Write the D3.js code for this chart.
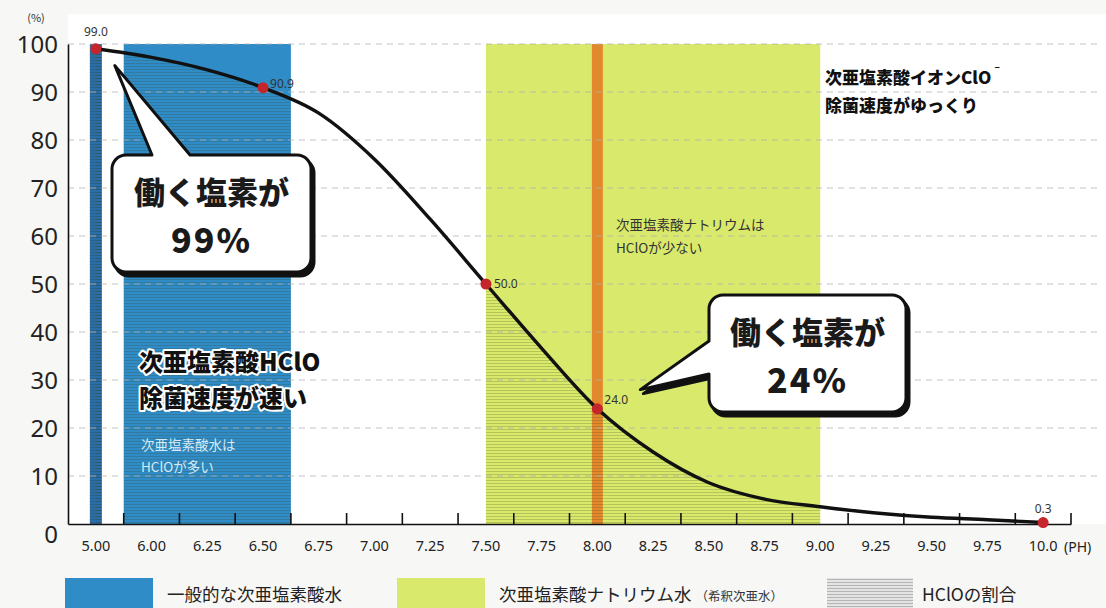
<!DOCTYPE html>
<html><head><meta charset="utf-8">
<script src="https://cdn.jsdelivr.net/npm/d3@7"></script>
<style>
html,body{margin:0;padding:0;background:#f7f7f5;}
svg{display:block;font-family:"Noto Sans CJK JP","Noto Sans",sans-serif;}
</style></head>
<body>
<svg id="c" width="1106" height="608"></svg>
<script>
// ---- data ----
const phLabels = ["5.00","6.00","6.25","6.50","6.75","7.00","7.25","7.50","7.75","8.00","8.25","8.50","8.75","9.00","9.25","9.50","9.75","10.0"];
const hcloPct  = [99.0, 97.2, 94.6, 90.9, 85.6, 76.0, 63.5, 50.0, 36.6, 24.0, 15.0, 8.6, 5.2, 3.6, 2.3, 1.4, 0.9, 0.3];
const labeledPH = ["5.00","6.50","7.50","8.00","10.0"];
const yTicks = [0,10,20,30,40,50,60,70,80,90,100];
const blueThin = ["5.00"];            // general hypochlorous acid water (narrow)
const blueWide = ["6.00","6.50"];     // general hypochlorous acid water (band range)
const yellowRange = ["7.50","9.00"];  // sodium hypochlorite water (centre to centre)
const orangePH = "8.00";
const legendItems = ["一般的な次亜塩素酸水","次亜塩素酸ナトリウム水","HClOの割合"];

const svg = d3.select("#c");
const W = 1106, H = 608;
const x = d3.scaleBand().domain(phLabels).range([68,1071]).padding(0);
const cx = d => x(d) + x.bandwidth()/2;
const y = d3.scaleLinear().domain([0,100]).range([524,44]);
const data = phLabels.map((p,i)=>({ph:p, v:hcloPct[i]}));

const BLUE = "#2f8cc6", BLUE_D = "#2a6ea8", YEL = "#d9e96c", ORG = "#e1892c", RED = "#c4262b";

// defs
const defs = svg.append("defs");
const pat = defs.append("pattern").attr("id","hatch").attr("patternUnits","userSpaceOnUse")
  .attr("width",6).attr("height",3);
pat.append("rect").attr("x",0).attr("y",0).attr("width",6).attr("height",1).attr("fill","rgba(60,60,20,0.22)");
const patL = defs.append("pattern").attr("id","hatchL").attr("patternUnits","userSpaceOnUse")
  .attr("width",6).attr("height",3);
patL.append("rect").attr("width",6).attr("height",3).attr("fill","#e4e4e4");
patL.append("rect").attr("width",6).attr("height",1).attr("fill","#b5b5b5");

// plot background
svg.append("rect").attr("x",68).attr("y",14).attr("width",W-68).attr("height",510).attr("fill","#fff");

// regions
const regions = svg.append("g");
regions.append("rect").attr("x",cx(blueThin[0])-6).attr("y",y(100)).attr("width",12).attr("height",y(0)-y(100)).attr("fill",BLUE_D);
regions.append("rect").attr("x",x(blueWide[0])).attr("y",y(100))
  .attr("width",x(blueWide[1])+x.bandwidth()-x(blueWide[0])).attr("height",y(0)-y(100)).attr("fill",BLUE);
regions.append("rect").attr("x",cx(yellowRange[0])).attr("y",y(100))
  .attr("width",cx(yellowRange[1])-cx(yellowRange[0])).attr("height",y(0)-y(100)).attr("fill",YEL);
regions.append("rect").attr("x",cx(orangePH)-5.5).attr("y",y(100)).attr("width",11).attr("height",y(0)-y(100)).attr("fill",ORG);

// clip for hatch
const clip = defs.append("clipPath").attr("id","regclip");
clip.append("rect").attr("x",cx(blueThin[0])-6).attr("y",0).attr("width",12).attr("height",H);
clip.append("rect").attr("x",x(blueWide[0])).attr("y",0).attr("width",x(blueWide[1])+x.bandwidth()-x(blueWide[0])).attr("height",H);
clip.append("rect").attr("x",cx(yellowRange[0])).attr("y",0).attr("width",cx(yellowRange[1])-cx(yellowRange[0])).attr("height",H);

const curve = d3.curveMonotoneX;
const area = d3.area().x(d=>cx(d.ph)).y0(y(0)).y1(d=>y(d.v)).curve(curve);
svg.append("path").datum(data).attr("d",area).attr("fill","url(#hatch)").attr("clip-path","url(#regclip)");
// thin bar full hatch
svg.append("rect").attr("x",cx(blueThin[0])-6).attr("y",y(100)).attr("width",12).attr("height",y(0)-y(100)).attr("fill","url(#hatch)");

// gridlines
svg.append("g").selectAll("line").data(yTicks.filter(t=>t>0)).join("line")
  .attr("x1",68).attr("x2",1100).attr("y1",d=>y(d)).attr("y2",d=>y(d))
  .attr("stroke","rgba(175,175,175,0.75)").attr("stroke-width",1).attr("stroke-dasharray","6,5");

// y axis
const ya = svg.append("g").attr("transform","translate(68,0)")
  .call(d3.axisLeft(y).tickValues(yTicks).tickSize(0).tickSizeOuter(0).tickPadding(10));
ya.select(".domain").attr("stroke","#111").attr("stroke-width",1.6);
ya.selectAll("text").attr("font-size",24).attr("fill","#222").attr("font-family","'Noto Sans',sans-serif")
  .attr("dy", d => d===0 ? "0.75em" : "0.35em");
svg.append("text").attr("x",36).attr("y",22).attr("text-anchor","middle").attr("font-size",11).attr("fill","#333").text("(%)");

// x axis
const xa = svg.append("g").attr("transform","translate(0,524)")
  .call(d3.axisBottom(x).tickSize(0).tickSizeOuter(0).tickPadding(17));
xa.select(".domain").attr("stroke","#111").attr("stroke-width",1.6);
xa.selectAll("text").attr("font-size",14.5).attr("fill","#222").attr("font-family","'Noto Sans',sans-serif");
svg.append("g").selectAll("line").data(phLabels).join("line")
  .attr("x1",d=>x(d)+x.bandwidth()).attr("x2",d=>x(d)+x.bandwidth())
  .attr("y1",524).attr("y2",513).attr("stroke","#111").attr("stroke-width",1.6);
svg.append("text").attr("x",1064).attr("y",552).attr("font-size",14).attr("fill","#222")
  .attr("font-family","'Noto Sans',sans-serif").text("(PH)");

// curve
const line = d3.line().x(d=>cx(d.ph)).y(d=>y(d.v)).curve(curve);
svg.append("path").datum(data).attr("d",line).attr("fill","none").attr("stroke","#111").attr("stroke-width",3.4);

// points & labels
const pts = data.filter(d=>labeledPH.includes(d.ph));
svg.append("g").selectAll("circle").data(pts).join("circle")
  .attr("cx",d=>cx(d.ph)).attr("cy",d=>y(d.v)).attr("r",5.5).attr("fill",RED);
const lblPos = {"5.00":[0,-17,"middle"],"6.50":[7,-4,"start"],"7.50":[8,0,"start"],"8.00":[7,-9,"start"],"10.0":[0,-14,"middle"]};
svg.append("g").selectAll("text").data(pts).join("text")
  .attr("x",d=>cx(d.ph)+lblPos[d.ph][0]).attr("y",d=>y(d.v)+lblPos[d.ph][1])
  .attr("dy","0.35em").attr("text-anchor",d=>lblPos[d.ph][2])
  .attr("font-size",12).attr("fill","#333").attr("font-family","'Noto Sans',sans-serif")
  .text(d=>d.v.toFixed(1));

// annotation texts
function outlined(lines, x0, y0, lh, size){
  const t = svg.append("text").attr("font-size",size).attr("font-weight",900)
    .attr("fill","#111").attr("stroke","#fff").attr("stroke-width",4).attr("paint-order","stroke")
    .attr("stroke-linejoin","round");
  lines.forEach((s,i)=>t.append("tspan").attr("x",x0).attr("y",y0+i*lh).text(s));
  return t;
}
outlined(["次亜塩素酸HClO","除菌速度が速い"], 139, 371, 36, 24);
const t2 = svg.append("text").attr("font-size",13.5).attr("fill","#d6ebf7");
["次亜塩素酸水は","HClOが多い"].forEach((s,i)=>t2.append("tspan").attr("x",141).attr("y",450+i*22).text(s));
const t3 = svg.append("text").attr("font-size",13.5).attr("fill","#333");
["次亜塩素酸ナトリウムは","HClOが少ない"].forEach((s,i)=>t3.append("tspan").attr("x",616).attr("y",230+i*23).text(s));
const t4 = svg.append("text").attr("font-size",17).attr("font-weight",900).attr("fill","#111");
t4.append("tspan").attr("x",825).attr("y",84).text("次亜塩素酸イオンClO");
t4.append("tspan").attr("dy",-8).attr("font-size",12).text("ˉ");
t4.append("tspan").attr("x",825).attr("y",112).text("除菌速度がゆっくり");

// speech bubbles
function bubble(b){
  const p = d3.path(), r = b.r;
  const {x0,y0,x1,y1} = b;
  if (b.side === "top"){
    p.moveTo(x0+r,y0); p.lineTo(b.t1,y0); p.lineTo(b.tx,b.ty); p.lineTo(b.t2,y0);
    p.lineTo(x1-r,y0); p.arcTo(x1,y0,x1,y0+r,r); p.lineTo(x1,y1-r); p.arcTo(x1,y1,x1-r,y1,r);
    p.lineTo(x0+r,y1); p.arcTo(x0,y1,x0,y1-r,r); p.lineTo(x0,y0+r); p.arcTo(x0,y0,x0+r,y0,r);
  } else {
    p.moveTo(x0+r,y0); p.lineTo(x1-r,y0); p.arcTo(x1,y0,x1,y0+r,r); p.lineTo(x1,y1-r); p.arcTo(x1,y1,x1-r,y1,r);
    p.lineTo(x0+r,y1); p.arcTo(x0,y1,x0,y1-r,r); p.lineTo(x0,b.t2); p.lineTo(b.tx,b.ty); p.lineTo(x0,b.t1);
    p.lineTo(x0,y0+r); p.arcTo(x0,y0,x0+r,y0,r);
  }
  p.closePath();
  const g = svg.append("g");
  g.append("path").attr("d",p.toString()).attr("fill","#111").attr("transform","translate(3,4)").attr("stroke","#111").attr("stroke-width",3).attr("stroke-linejoin","round");
  g.append("path").attr("d",p.toString()).attr("fill","#fff").attr("stroke","#111").attr("stroke-width",3).attr("stroke-linejoin","round");
  const cxm = (x0+x1)/2;
  g.append("text").attr("x",cxm).attr("y",b.ly1).attr("text-anchor","middle").attr("font-size",31).attr("font-weight",900).attr("fill","#1a1a1a").text(b.l1);
  g.append("text").attr("x",cxm).attr("y",b.ly2).attr("text-anchor","middle").attr("font-size",34).attr("font-weight",900).attr("letter-spacing",2).attr("fill","#1a1a1a").text(b.l2);
}
bubble({side:"top",x0:112,y0:155,x1:311,y1:272,r:14,t1:152,t2:190,tx:cx("5.00")+19,ty:y(95.5),l1:"働く塩素が",l2:"99%",ly1:204,ly2:253});
bubble({side:"left",x0:709,y0:295,x1:906,y1:412,r:14,t1:341,t2:374,tx:cx("8.00")+43,ty:y(28),l1:"働く塩素が",l2:"24%",ly1:344,ly2:393});

// legend
const lg = svg.append("g");
const lgX = [65,397,827];
const lgFill = [BLUE,YEL,"url(#hatchL)"];
lg.selectAll("rect").data(legendItems).join("rect")
  .attr("x",(d,i)=>lgX[i]).attr("y",578).attr("width",(d,i)=>i===2?86:88).attr("height",30).attr("fill",(d,i)=>lgFill[i]);
const lt = lg.selectAll("text.l").data(legendItems).join("text").attr("class","l")
  .attr("x",(d,i)=>lgX[i]+(i===2?95:102)).attr("y",601).attr("font-size",17.5).attr("fill","#222").text(d=>d);
const endX = lgX[1] + 102 + lt.nodes()[1].getComputedTextLength();
lg.append("text").attr("x",endX+4).attr("y",601).attr("font-size",12.5).attr("fill","#333").text("（希釈次亜水）");
</script>
</body></html>
